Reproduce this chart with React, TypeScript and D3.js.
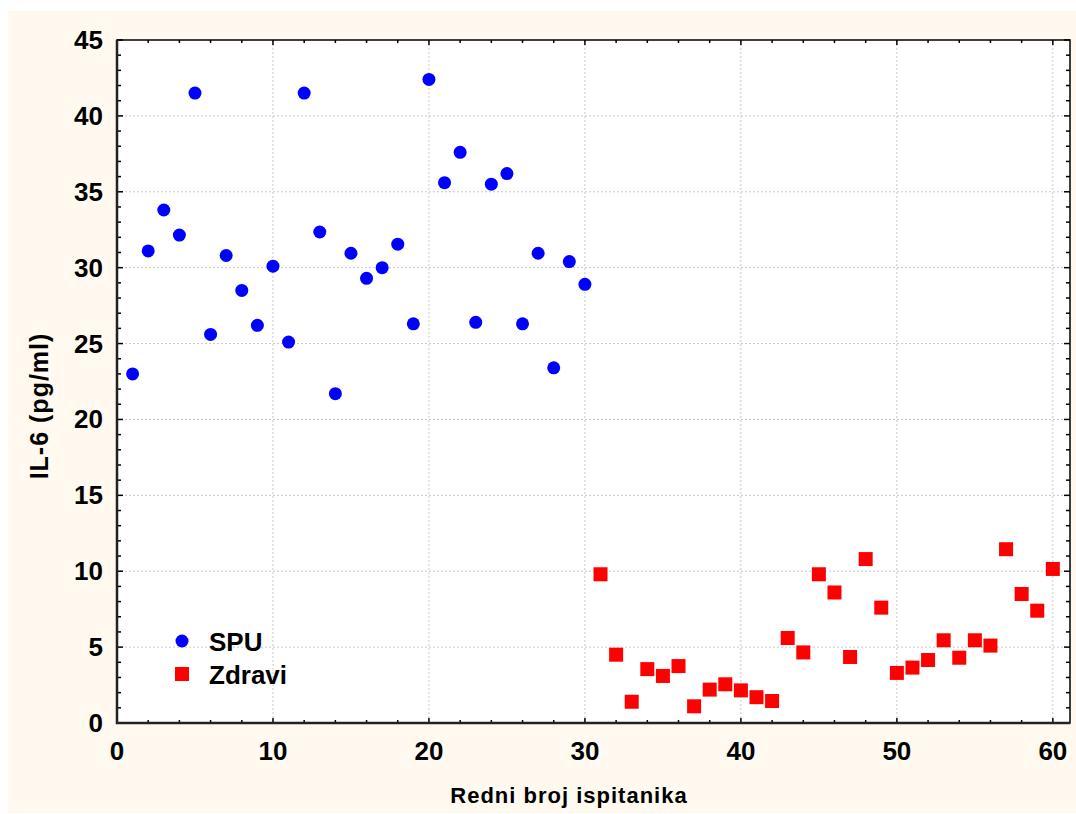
import React from "react";
import * as d3 from "d3";

const spuX = d3.range(1, 31);
const spuY = [23.0, 31.1, 33.8, 32.15, 41.5, 25.6, 30.8, 28.5, 26.2, 30.1, 25.1, 41.5, 32.35, 21.7, 30.95, 29.3, 30.0, 31.55, 26.3, 42.4, 35.6, 37.6, 26.4, 35.5, 36.2, 26.3, 30.95, 23.4, 30.4, 28.9];
const zdrX = d3.range(31, 61);
const zdrY = [9.8, 4.5, 1.4, 3.55, 3.1, 3.75, 1.1, 2.2, 2.55, 2.15, 1.7, 1.45, 5.6, 4.65, 9.8, 8.6, 4.35, 10.8, 7.6, 3.3, 3.65, 4.15, 5.45, 4.3, 5.45, 5.1, 11.45, 8.5, 7.4, 10.15];
const xTicks = [0, 10, 20, 30, 40, 50, 60];
const yTicks = [0, 5, 10, 15, 20, 25, 30, 35, 40, 45];
const seriesNames = ["SPU", "Zdravi"];
const xLabel = "Redni broj ispitanika";
const yLabel = "IL-6 (pg/ml)";

export default function App() {
  const W = 1076, H = 814;
  const L = 117, R = 1070, T = 40, B = 723;
  const x = d3.scaleLinear().domain([0, 61.1]).range([L, R]);
  const y = d3.scaleLinear().domain([0, 45]).range([B, T]);
  const xMinor = d3.range(0, 61.1, 2);
  const yMinor = d3.range(0, 45.01, 1);
  const font = "'Liberation Sans', Arial, sans-serif";
  return (
    <svg width={W} height={H} style={{ position: "absolute", left: 0, top: 0 }}>
      <rect x={8} y={11} width={W - 8} height={H - 12} fill="#FFF9EF" />
      <rect x={L} y={T} width={R - L} height={B - T} fill="#fff" />
      {xTicks.filter(t => t > 0).map(t => (
        <line key={"gx" + t} x1={x(t)} x2={x(t)} y1={T} y2={B} stroke="#c8c8c8" strokeWidth={1} strokeDasharray="2,2" />
      ))}
      {yTicks.filter(t => t > 0 && t < 45).map(t => (
        <line key={"gy" + t} x1={L} x2={R} y1={y(t)} y2={y(t)} stroke="#c8c8c8" strokeWidth={1} strokeDasharray="2,2" />
      ))}
      {xMinor.map(t => {
        const major = t % 10 === 0;
        const len = major ? 5 : 3;
        return (
          <g key={"xt" + t}>
            <line x1={x(t)} x2={x(t)} y1={B} y2={B - len} stroke="#000" strokeWidth={1.5} />
            <line x1={x(t)} x2={x(t)} y1={T} y2={T + len} stroke="#000" strokeWidth={1.5} />
          </g>
        );
      })}
      {yMinor.map(t => {
        const major = t % 5 === 0;
        const len = major ? 6 : 4;
        return (
          <g key={"yt" + t}>
            <line x1={L} x2={L + len} y1={y(t)} y2={y(t)} stroke="#000" strokeWidth={1.5} />
            <line x1={R} x2={R - len} y1={y(t)} y2={y(t)} stroke="#000" strokeWidth={1.5} />
          </g>
        );
      })}
      <rect x={L} y={T} width={R - L} height={B - T} fill="none" stroke="#000" strokeWidth={1.5} />
      <line x1={L} x2={L} y1={T} y2={B + 1} stroke="#222" strokeWidth={2.5} />
      <line x1={L - 1} x2={R} y1={B} y2={B} stroke="#222" strokeWidth={2.5} />
      {yTicks.map(t => (
        <text key={"yl" + t} x={L - 14} y={y(t) + 9} textAnchor="end" fontFamily={font} fontWeight="bold" fontSize={26} fill="#000">{t}</text>
      ))}
      {xTicks.map(t => (
        <text key={"xl" + t} x={x(t)} y={760} textAnchor="middle" fontFamily={font} fontWeight="bold" fontSize={26} fill="#000">{t}</text>
      ))}
      <text x={569} y={803} textAnchor="middle" fontFamily={font} fontWeight="bold" fontSize={22} letterSpacing={1} fill="#000">{xLabel}</text>
      <text transform={`translate(48,406) rotate(-90)`} textAnchor="middle" fontFamily={font} fontWeight="bold" fontSize={25} letterSpacing={1} fill="#000">{yLabel}</text>
      {spuX.map((v, i) => (
        <circle key={"s" + i} cx={x(v)} cy={y(spuY[i])} r={6.5} fill="#0000FF" />
      ))}
      {zdrX.map((v, i) => (
        <rect key={"z" + i} x={x(v) - 7} y={y(zdrY[i]) - 7} width={14} height={14} fill="#FF0000" />
      ))}
      <circle cx={182} cy={641} r={6.5} fill="#0000FF" />
      <text x={209} y={651} fontFamily={font} fontWeight="bold" fontSize={26} fill="#000">{seriesNames[0]}</text>
      <rect x={175} y={667} width={14} height={14} fill="#FF0000" />
      <text x={209} y={684} fontFamily={font} fontWeight="bold" fontSize={26} fill="#000">{seriesNames[1]}</text>
    </svg>
  );
}
